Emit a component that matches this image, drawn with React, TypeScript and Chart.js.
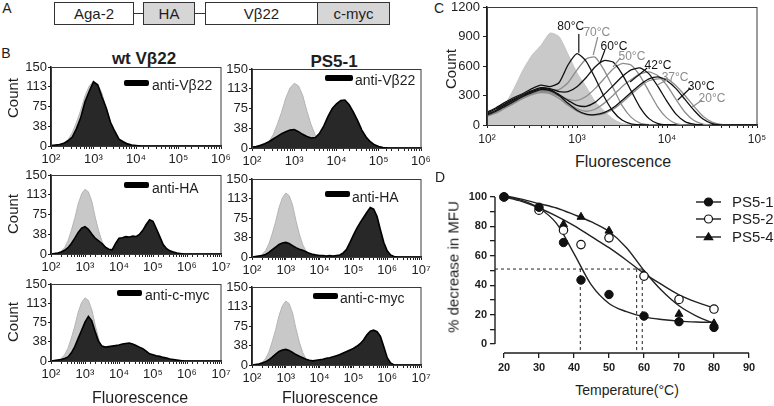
import React, { useEffect, useRef } from "react";
import { Chart, registerables } from "chart.js";

Chart.register(...registerables);

const FONT = "'Liberation Sans', Arial, Helvetica, sans-serif";
const INK = "#1e1e1e";

// ---------------- shared histogram bin grid (log10 of fluorescence) ----------------
const binExp = [
  2.0, 2.1, 2.2, 2.3, 2.4, 2.5, 2.6, 2.7, 2.8, 2.9, 3.0, 3.1, 3.2, 3.3, 3.4, 3.5, 3.6, 3.7,
  3.8, 3.9, 4.0, 4.1, 4.2, 4.3, 4.4, 4.5, 4.6, 4.7, 4.8, 4.9, 5.0, 5.1, 5.2, 5.3, 5.4, 5.5,
  5.6, 5.7, 5.8, 5.9, 6.0, 6.1, 6.2, 6.3, 6.4, 6.5, 6.6, 6.7, 6.8, 6.9, 7.0,
];

// ---------------- Panel B (counts per bin) ----------------
const bControl = [0, 1, 2, 5, 12, 25, 45, 68, 95, 114, 123, 118, 100, 70, 44, 24, 11, 5, 2, 1, 0];
const bWtVb22 = [1, 2, 3, 5, 10, 17, 33, 54, 84, 104, 122, 116, 93, 72, 45, 28, 13, 8, 4, 2, 1, 0];
const bPsVb22 = [2, 3, 5, 8, 12, 17, 22, 27, 31, 34, 35, 31, 26, 22, 19, 20, 28, 42, 60, 75, 84, 90, 91, 82, 68, 52, 34, 21, 12, 6, 3, 1, 0];
const bWtHA = [0, 1, 2, 4, 7, 12, 20, 30, 41, 49, 52, 47, 38, 30, 25, 20, 13, 9, 8, 20, 30, 31, 33, 32, 34, 33, 37, 45, 56, 65, 62, 48, 33, 18, 10, 6, 4, 2, 1, 0];
const bPsHA = [0, 1, 2, 3, 5, 9, 14, 19, 24, 27, 28, 26, 22, 18, 15, 13, 10, 7, 5, 4, 3, 3, 2, 3, 2, 3, 4, 8, 15, 28, 42, 55, 66, 76, 86, 95, 92, 78, 52, 28, 12, 4, 1, 0];
const bWtMyc = [0, 1, 2, 3, 5, 8, 16, 28, 44, 60, 76, 87, 78, 57, 38, 29, 27, 28, 29, 30, 31, 33, 34, 35, 33, 30, 27, 24, 19, 14, 12, 10, 9, 7, 6, 4, 3, 2, 1, 0];
const bPsMyc = [0, 1, 2, 4, 6, 10, 15, 21, 26, 29, 30, 28, 24, 20, 17, 14, 11, 9, 8, 9, 10, 11, 13, 14, 16, 18, 20, 23, 26, 29, 32, 36, 41, 48, 58, 65, 67, 64, 55, 35, 14, 4, 0];
const bYTicks = [0, 37.5, 75, 112.5, 150];
const bColumnTitles = ["wt Vβ22", "PS5-1"];
const bRowLegends = ["anti-Vβ22", "anti-HA", "anti-c-myc"];

// ---------------- Panel C ----------------
const cControl = [80, 130, 210, 370, 560, 710, 810, 935, 900, 720, 530, 390, 240, 145, 60, 15, 3, 0];
const c80 = [130, 175, 230, 280, 320, 370, 405, 390, 430, 610, 725, 650, 480, 290, 140, 50, 12, 2, 0];
const c70 = [100, 140, 190, 240, 290, 330, 355, 350, 360, 430, 560, 670, 690, 560, 380, 200, 80, 20, 3, 0];
const c60 = [120, 165, 215, 265, 310, 350, 380, 370, 340, 340, 390, 480, 590, 655, 640, 520, 350, 180, 65, 15, 2, 0];
const c50 = [90, 130, 180, 230, 280, 320, 345, 335, 300, 260, 250, 290, 370, 470, 570, 625, 610, 500, 340, 180, 70, 15, 2, 0];
const c42 = [110, 150, 205, 255, 300, 340, 370, 360, 310, 250, 200, 190, 230, 310, 400, 490, 560, 580, 520, 390, 240, 110, 35, 8, 0];
const c37 = [90, 130, 180, 230, 280, 320, 345, 335, 290, 220, 165, 140, 160, 220, 300, 390, 460, 520, 540, 500, 400, 260, 130, 45, 10, 0];
const c30 = [100, 140, 190, 240, 290, 330, 360, 350, 300, 220, 150, 110, 105, 125, 175, 250, 330, 410, 470, 490, 450, 370, 260, 150, 60, 15, 2, 0];
const c20 = [90, 120, 170, 220, 270, 310, 330, 320, 270, 200, 140, 105, 100, 115, 160, 230, 310, 390, 450, 470, 470, 400, 300, 190, 90, 30, 6, 0];
const cCurves = [c20, c37, c50, c70, c30, c42, c60, c80];
const cCurveGray = [true, true, true, true, false, false, false, false];
const cYTicks = [0, 300, 600, 900, 1200];
// temperature annotations (text, log10 position, count position, leader from/to)
const cLabelText = ["80°C", "70°C", "60°C", "50°C", "42°C", "37°C", "30°C", "20°C"];
const cLabelGray = [false, true, false, true, false, true, false, true];
const cLabelExp = [2.93, 3.22, 3.41, 3.61, 3.9, 4.09, 4.38, 4.5];
const cLabelCount = [997, 936, 793, 692, 600, 478, 386, 264];
const cLeaderFrom = [[3.02, 925], [3.23, 895], [3.31, 763], [3.48, 681], [3.78, 580], [4.0, 458], [4.26, 376], [4.39, 254]];
const cLeaderTo = [[3.02, 735], [3.18, 712], [3.26, 640], [3.4, 590], [3.59, 437], [3.89, 407], [4.12, 254], [4.28, 183]];

// ---------------- Panel D ----------------
const dTemps = [20, 30, 37, 42, 50, 60, 70, 80];
const dPS51 = [100, 93, 69, 43.5, 33.7, 19, 15.2, 11.3];
const dPS52 = [100, 91, 77.4, 67.6, 72.2, 46.2, 30.3, 23.8];
const dPS54 = [100, 92, 81.4, 86.4, 77, 47, 20.4, 14];
const dFitT = [20, 25, 30, 35, 40, 45, 50, 55, 60, 65, 70, 75, 80];
const dFit51 = [100.5, 97.7, 92.5, 82, 61.5, 40, 27.6, 22, 18.5, 16.7, 15.6, 15, 14.7];
const dFit52 = [100, 97, 92.5, 87, 80.5, 73, 65.5, 57, 48, 40.5, 33.5, 28.5, 24.5];
const dFit54 = [101, 98.5, 95.5, 92.5, 88, 83, 76.5, 65.5, 50, 36.5, 26, 19, 14];
const dHalfLevel = 51;
const dHalfTemps = [41.8, 57.9, 59.5];
const dSeriesNames = ["PS5-1", "PS5-2", "PS5-4"];
const dXTicks = [20, 30, 40, 50, 60, 70, 80, 90];
const dYTicks = [0, 10, 20, 30, 40, 50, 60, 70, 80, 90, 100];
const D_X_MIN = 17.43;
const D_X_MAX = 90;
const D_Y_MIN = -6.1;
const D_Y_MAX = 106.1;

// ---------------- helpers ----------------
const SUP = ["⁰", "¹", "²", "³", "⁴", "⁵", "⁶", "⁷", "⁸", "⁹"];
const toPts = (vals: number[]) => vals.map((v, i) => ({ x: Math.pow(10, binExp[i]), y: v }));
const powLabel = (v: any) => {
  const e = Math.log10(Number(v));
  const r = Math.round(e);
  return Math.abs(e - r) < 1e-6 ? "10" + SUP[r] : "";
};

const framePlugin = {
  id: "frame",
  afterDraw(chart: any) {
    const { ctx, chartArea: a } = chart;
    ctx.save();
    ctx.strokeStyle = "#3a3a3a";
    ctx.lineWidth = 1;
    ctx.strokeRect(a.left + 0.5, a.top + 0.5, a.right - a.left - 0.5, a.bottom - a.top);
    ctx.restore();
  },
};

function logX(maxExp: number, fontSize: number, height: number, pad: number) {
  return {
    type: "logarithmic",
    min: 100,
    max: Math.pow(10, maxExp),
    afterFit: (s: any) => {
      s.height = height;
      s.paddingLeft = 0;
      s.paddingRight = 0;
    },
    border: { color: INK, width: 1.5 },
    grid: { drawOnChartArea: false, tickLength: 3, color: INK, lineWidth: 1 },
    ticks: {
      autoSkip: false,
      maxRotation: 0,
      minRotation: 0,
      padding: pad,
      color: INK,
      font: { family: FONT, size: fontSize },
      callback: (v: any) => powLabel(v),
    },
  };
}

function histChart(black: number[], maxExp: number) {
  return () => ({
    type: "line",
    data: {
      datasets: [
        { data: toPts(black), borderColor: "#000", backgroundColor: "#282828", borderWidth: 1.6, fill: "origin", pointRadius: 0, tension: 0 },
        { data: toPts(bControl), borderColor: "#b4b4b4", backgroundColor: "#c8c8c8", borderWidth: 1, fill: "origin", pointRadius: 0, tension: 0 },
      ],
    },
    options: {
      animation: false,
      responsive: false,
      devicePixelRatio: 1,
      events: [],
      layout: { padding: { left: 2, top: 10, right: 16, bottom: 0 } },
      plugins: { legend: { display: false }, tooltip: { enabled: false } },
      scales: {
        x: logX(maxExp, 13, 22, 3),
        y: {
          min: 0,
          max: 150,
          afterBuildTicks: (s: any) => {
            s.ticks = bYTicks.map((v) => ({ value: v }));
          },
          afterFit: (s: any) => {
            s.width = 30;
            s.paddingTop = 0;
            s.paddingBottom = 0;
          },
          border: { color: INK, width: 1.5 },
          grid: { drawOnChartArea: false, tickLength: 3, color: INK },
          ticks: { padding: 1, color: INK, font: { family: FONT, size: 13 }, callback: (v: any) => String(Math.round(Number(v))) },
        },
      },
    },
    plugins: [framePlugin],
  });
}

const cLabelPlugin = {
  id: "cLabels",
  afterDatasetsDraw(chart: any) {
    const { ctx, scales } = chart;
    const x = scales.x;
    const y = scales.y;
    ctx.save();
    ctx.font = `12px ${FONT}`;
    ctx.textAlign = "center";
    ctx.textBaseline = "middle";
    cLabelText.forEach((t, i) => {
      const col = cLabelGray[i] ? "#8c8c8c" : "#111";
      ctx.strokeStyle = col;
      ctx.fillStyle = col;
      ctx.lineWidth = 1.2;
      ctx.beginPath();
      ctx.moveTo(x.getPixelForValue(Math.pow(10, cLeaderFrom[i][0])), y.getPixelForValue(cLeaderFrom[i][1]));
      ctx.lineTo(x.getPixelForValue(Math.pow(10, cLeaderTo[i][0])), y.getPixelForValue(cLeaderTo[i][1]));
      ctx.stroke();
      ctx.fillText(t, x.getPixelForValue(Math.pow(10, cLabelExp[i])), y.getPixelForValue(cLabelCount[i]));
    });
    ctx.restore();
  },
};

function cChart() {
  const curveSets = cCurves.map((c, i) => ({
    data: toPts(c),
    borderColor: cCurveGray[i] ? "#8c8c8c" : "#111",
    borderWidth: 1.3,
    fill: false,
    pointRadius: 0,
    tension: 0.2,
  }));
  return {
    type: "line",
    data: {
      datasets: [
        ...curveSets.reverse(),
        { data: toPts(cControl), borderColor: "#c4c4c4", backgroundColor: "#c9c9c9", borderWidth: 1, fill: "origin", pointRadius: 0, tension: 0.2 },
      ],
    },
    options: {
      animation: false,
      responsive: false,
      devicePixelRatio: 1,
      events: [],
      layout: { padding: { left: 2, top: 7, right: 14, bottom: 0 } },
      plugins: { legend: { display: false }, tooltip: { enabled: false } },
      scales: {
        x: logX(5, 12, 24, 4),
        y: {
          min: 0,
          max: 1200,
          afterBuildTicks: (s: any) => {
            s.ticks = cYTicks.map((v) => ({ value: v }));
          },
          afterFit: (s: any) => {
            s.width = 38;
            s.paddingTop = 0;
            s.paddingBottom = 0;
          },
          border: { color: INK, width: 1.5 },
          grid: { drawOnChartArea: false, tickLength: 4, color: INK },
          ticks: { padding: 3, color: INK, font: { family: FONT, size: 13 }, callback: (v: any) => String(Number(v)) },
        },
      },
    },
    plugins: [framePlugin, cLabelPlugin],
  };
}

function drawMarker(ctx: any, kind: number, x: number, y: number, r: number) {
  ctx.beginPath();
  if (kind === 2) {
    const h = r * 1.7;
    ctx.moveTo(x, y - h * 0.6);
    ctx.lineTo(x + r * 1.05, y + h * 0.4);
    ctx.lineTo(x - r * 1.05, y + h * 0.4);
    ctx.closePath();
  } else {
    ctx.arc(x, y, r, 0, Math.PI * 2);
  }
  ctx.fillStyle = kind === 1 ? "#fff" : "#111";
  ctx.fill();
  ctx.strokeStyle = "#111";
  ctx.lineWidth = 1.2;
  ctx.stroke();
}

const dAxesPlugin = {
  id: "dAxes",
  afterDraw(chart: any) {
    const { ctx, chartArea: a, scales } = chart;
    const x = scales.x;
    const y = scales.y;
    ctx.save();
    ctx.strokeStyle = INK;
    ctx.lineWidth = 1.4;
    ctx.beginPath();
    ctx.moveTo(x.getPixelForValue(dXTicks[0]), a.bottom);
    ctx.lineTo(x.getPixelForValue(dXTicks[dXTicks.length - 1]), a.bottom);
    ctx.moveTo(a.left, y.getPixelForValue(dYTicks[0]));
    ctx.lineTo(a.left, y.getPixelForValue(dYTicks[dYTicks.length - 1]));
    ctx.stroke();
    // legend
    const rows = [22, 39, 57];
    ctx.font = `15px ${FONT}`;
    ctx.textBaseline = "middle";
    ctx.textAlign = "left";
    dSeriesNames.forEach((n, i) => {
      ctx.strokeStyle = INK;
      ctx.lineWidth = 1.4;
      ctx.beginPath();
      ctx.moveTo(241, rows[i]);
      ctx.lineTo(266, rows[i]);
      ctx.stroke();
      drawMarker(ctx, i, 253.5, rows[i], 4);
      ctx.fillStyle = INK;
      ctx.fillText(n, 277, rows[i] + 1);
    });
    ctx.restore();
  },
};

function dChart() {
  const pts = (ys: number[]) => ys.map((v, i) => ({ x: dTemps[i], y: v }));
  const fit = (ys: number[]) => ys.map((v, i) => ({ x: dFitT[i], y: v }));
  const lastHalf = Math.max(...dHalfTemps);
  const dashed = (data: any[]) => ({ data, borderColor: "#222", borderWidth: 1, borderDash: [3, 3], pointRadius: 0, fill: false, showLine: true });
  return {
    type: "scatter",
    data: {
      datasets: [
        { data: pts(dPS51), pointStyle: "circle", pointRadius: 4.2, backgroundColor: "#111", borderColor: "#111", borderWidth: 1, showLine: false },
        { data: pts(dPS52), pointStyle: "circle", pointRadius: 4.2, backgroundColor: "#fff", borderColor: "#111", borderWidth: 1.2, showLine: false },
        { data: pts(dPS54), pointStyle: "triangle", pointRadius: 4.6, backgroundColor: "#111", borderColor: "#111", borderWidth: 1, showLine: false },
        { data: fit(dFit51), showLine: true, borderColor: "#222", borderWidth: 1.4, pointRadius: 0, cubicInterpolationMode: "monotone" },
        { data: fit(dFit52), showLine: true, borderColor: "#222", borderWidth: 1.4, pointRadius: 0, cubicInterpolationMode: "monotone" },
        { data: fit(dFit54), showLine: true, borderColor: "#222", borderWidth: 1.4, pointRadius: 0, cubicInterpolationMode: "monotone" },
        dashed([{ x: D_X_MIN, y: dHalfLevel }, { x: lastHalf, y: dHalfLevel }]),
        ...dHalfTemps.map((t) => dashed([{ x: t, y: dHalfLevel }, { x: t, y: D_Y_MIN }])),
      ],
    },
    options: {
      animation: false,
      responsive: false,
      devicePixelRatio: 1,
      events: [],
      layout: { padding: { left: 8, top: 8, right: 25, bottom: 0 } },
      plugins: { legend: { display: false }, tooltip: { enabled: false } },
      scales: {
        x: {
          type: "linear",
          min: D_X_MIN,
          max: D_X_MAX,
          afterBuildTicks: (s: any) => {
            s.ticks = dXTicks.map((v) => ({ value: v }));
          },
          afterFit: (s: any) => {
            s.height = 27;
            s.paddingLeft = 0;
            s.paddingRight = 0;
          },
          border: { display: false },
          grid: { drawOnChartArea: false, tickLength: 5, color: INK, lineWidth: 1.3 },
          ticks: { autoSkip: false, maxRotation: 0, padding: 3, color: INK, font: { family: FONT, size: 11, weight: "bold" } },
        },
        y: {
          type: "linear",
          min: D_Y_MIN,
          max: D_Y_MAX,
          afterBuildTicks: (s: any) => {
            s.ticks = dYTicks.map((v) => ({ value: v }));
          },
          afterFit: (s: any) => {
            s.width = 32;
            s.paddingTop = 0;
            s.paddingBottom = 0;
          },
          border: { display: false },
          grid: { drawOnChartArea: false, tickLength: 5, color: INK, lineWidth: 1.3 },
          ticks: {
            padding: 3,
            color: INK,
            font: { family: FONT, size: 11, weight: "bold" },
            callback: (v: any) => (Number(v) % 20 === 0 ? String(v) : ""),
          },
        },
      },
    },
    plugins: [dAxesPlugin],
  };
}

function ChartBox({ x, y, w, h, make }: { x: number; y: number; w: number; h: number; make: () => any }) {
  const ref = useRef<HTMLCanvasElement | null>(null);
  useEffect(() => {
    if (!ref.current) return;
    const chart = new Chart(ref.current, make());
    return () => chart.destroy();
  }, []);
  return <canvas ref={ref} width={w} height={h} style={{ position: "absolute", left: x, top: y, width: w, height: h }} />;
}

function Txt({ x, y, size, bold, rotate, left, color, children }: any) {
  const tr = left ? "translate(0,-50%)" : `translate(-50%,-50%)${rotate ? " rotate(-90deg)" : ""}`;
  return (
    <div
      style={{
        position: "absolute",
        left: x,
        top: y,
        transform: tr,
        fontSize: size,
        fontWeight: bold ? 700 : 400,
        whiteSpace: "nowrap",
        lineHeight: 1,
        color: color || INK,
      }}
    >
      {children}
    </div>
  );
}

function Box({ x, w, gray, label }: any) {
  return (
    <div
      style={{
        position: "absolute",
        left: x,
        top: 2,
        width: w,
        height: 23,
        boxSizing: "border-box",
        border: "1px solid #333",
        background: gray ? "#d6d6d6" : "#fff",
        display: "flex",
        alignItems: "center",
        justifyContent: "center",
        fontSize: 15,
      }}
    >
      {label}
    </div>
  );
}

function LegendBar({ x, y, w, tx, ty, text }: any) {
  return (
    <>
      <div style={{ position: "absolute", left: x, top: y, width: w, height: 6, background: "#000", borderRadius: 2 }} />
      <Txt x={tx} y={ty} size={14} left>
        {text}
      </Txt>
    </>
  );
}

// B panel plot rectangles [left, top, right, bottom]
const leftCol = { l: 51, r: 221 };
const rightCol = { l: 252, r: 421 };
const leftRows = [[67, 146], [175, 254], [284, 361]];
const rightRows = [[69, 148], [179, 257], [287, 365]];

function bBox(col: any, row: number[], make: () => any, key: string) {
  const x = col.l - 32;
  const y = row[0] - 10;
  const w = 32 + (col.r - col.l) + 16;
  const h = 10 + (row[1] - row[0]) + 22;
  return <ChartBox key={key} x={x} y={y} w={w} h={h} make={make} />;
}

export default function App() {
  return (
    <div
      style={{
        position: "absolute",
        left: 0,
        top: 0,
        width: 774,
        height: 406,
        background: "#fff",
        overflow: "hidden",
        fontFamily: FONT,
        color: INK,
      }}
    >
      {/* Panel A */}
      <Txt x={7} y={8} size={14}>A</Txt>
      <Box x={54} w={80} label="Aga-2" />
      <div style={{ position: "absolute", left: 134, top: 13, width: 9, height: 1, background: "#333" }} />
      <Box x={143} w={52} gray label="HA" />
      <div style={{ position: "absolute", left: 195, top: 13, width: 10, height: 1, background: "#333" }} />
      <Box x={205} w={113} label="Vβ22" />
      <Box x={317} w={73} gray label="c-myc" />

      {/* Panel B */}
      <Txt x={6} y={53} size={14}>B</Txt>
      <Txt x={144} y={58} size={17} bold>{bColumnTitles[0]}</Txt>
      <Txt x={334} y={61} size={17} bold>{bColumnTitles[1]}</Txt>
      {bBox(leftCol, leftRows[0], histChart(bWtVb22, 6), "b1")}
      {bBox(leftCol, leftRows[1], histChart(bWtHA, 7), "b2")}
      {bBox(leftCol, leftRows[2], histChart(bWtMyc, 7), "b3")}
      {bBox(rightCol, rightRows[0], histChart(bPsVb22, 6), "b4")}
      {bBox(rightCol, rightRows[1], histChart(bPsHA, 7), "b5")}
      {bBox(rightCol, rightRows[2], histChart(bPsMyc, 7), "b6")}
      <LegendBar x={325} y={75} w={28} tx={355} ty={80} text={bRowLegends[0]} />
      <LegendBar x={325} y={191} w={25} tx={352} ty={197} text={bRowLegends[1]} />
      <LegendBar x={313} y={293} w={25} tx={340} ty={298} text={bRowLegends[2]} />
      <LegendBar x={124} y={80} w={25} tx={152} ty={85} text={bRowLegends[0]} />
      <LegendBar x={124} y={182} w={25} tx={152} ty={188} text={bRowLegends[1]} />
      <LegendBar x={117} y={290} w={25} tx={145} ty={295} text={bRowLegends[2]} />
      <Txt x={12} y={98} size={15} rotate>Count</Txt>
      <Txt x={12} y={214} size={15} rotate>Count</Txt>
      <Txt x={12} y={322} size={15} rotate>Count</Txt>
      <Txt x={140} y={398} size={16}>Fluorescence</Txt>
      <Txt x={330} y={398} size={16}>Fluorescence</Txt>

      {/* Panel C */}
      <ChartBox x={447} y={0} w={324} h={149} make={cChart} />
      <Txt x={439} y={8} size={14}>C</Txt>
      <Txt x={450} y={69} size={15} rotate>Count</Txt>
      <Txt x={623} y={162} size={16}>Fluorescence</Txt>

      {/* Panel D */}
      <ChartBox x={455} y={180} w={319} h={200} make={dChart} />
      <Txt x={440} y={177} size={14}>D</Txt>
      <Txt x={453} y={267} size={15} rotate>% decrease in MFU</Txt>
      <Txt x={627} y={390} size={14}>Temperature(°C)</Txt>
    </div>
  );
}
